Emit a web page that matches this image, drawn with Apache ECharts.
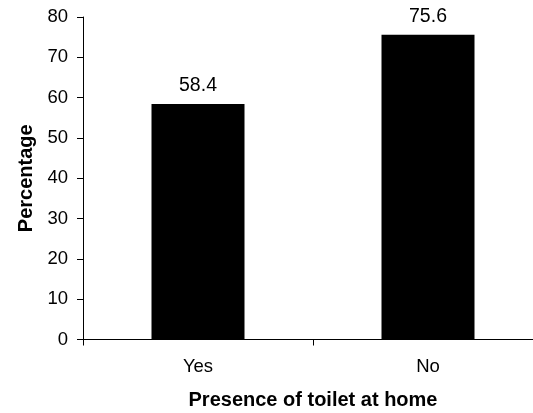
<!DOCTYPE html>
<html>
<head>
<meta charset="utf-8">
<script src="https://cdn.jsdelivr.net/npm/echarts@6/dist/echarts.min.js"></script>
<style>
  html, body { margin: 0; padding: 0; background: #fff; }
  #chart { width: 533px; height: 413px; }
</style>
</head>
<body>
<div id="chart"></div>
<script>
// Share of respondents by presence of a toilet at home
const categories = ['Yes', 'No'];
const percentages = [58.4, 75.6];
const yTicks = { min: 0, max: 80, interval: 10 };

const font = '"Liberation Sans", Arial, sans-serif';
const chart = echarts.init(document.getElementById('chart'), null, { renderer: 'canvas' });

chart.setOption({
  animation: false,
  backgroundColor: '#ffffff',
  // the category axis runs a little past the right edge of the canvas
  grid: { left: 83, top: 17, width: 460, height: 322.5, containLabel: false, outerBoundsMode: 'none' },
  xAxis: {
    type: 'category',
    data: categories,
    name: 'Presence of toilet at home',
    nameLocation: 'middle',
    nameGap: 51,
    nameTextStyle: { fontFamily: font, fontSize: 20, fontWeight: 'bold', color: '#000' },
    axisLine: { lineStyle: { color: '#000', width: 1 } },
    axisTick: { show: true, alignWithLabel: false, length: 6, lineStyle: { color: '#000' } },
    axisLabel: { fontFamily: font, fontSize: 18.5, color: '#000', margin: 18 },
    splitLine: { show: false }
  },
  yAxis: {
    type: 'value',
    min: yTicks.min,
    max: yTicks.max,
    interval: yTicks.interval,
    name: 'Percentage',
    nameLocation: 'middle',
    nameGap: 47,
    nameRotate: 90,
    nameTextStyle: { fontFamily: font, fontSize: 20, fontWeight: 'bold', color: '#000' },
    axisLine: { show: true, lineStyle: { color: '#000', width: 1 } },
    axisTick: { show: true, inside: false, length: 6, lineStyle: { color: '#000' } },
    axisLabel: { fontFamily: font, fontSize: 18.5, color: '#000', margin: 15 },
    splitLine: { show: false }
  },
  series: [{
    type: 'bar',
    data: percentages,
    barWidth: 93,
    itemStyle: { color: '#000' },
    label: {
      show: true,
      position: 'top',
      distance: 8,
      fontFamily: font,
      fontSize: 19.5,
      color: '#000',
      formatter: p => p.value.toFixed(1)
    }
  }]
});
</script>
</body>
</html>
